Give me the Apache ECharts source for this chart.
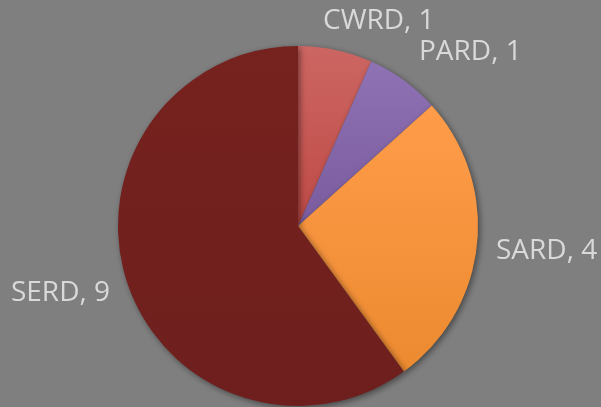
<!DOCTYPE html>
<html>
<head>
<meta charset="utf-8">
<script src="https://cdn.jsdelivr.net/npm/echarts@6/dist/echarts.min.js"></script>
<style>
  html, body { margin: 0; padding: 0; background: #7f7f7f; }
  #chart { width: 601px; height: 407px; }
</style>
</head>
<body>
<div id="chart"></div>
<script>
const categories = ['CWRD', 'PARD', 'SARD', 'SERD'];
const values = [1, 1, 4, 9];

// top / bottom gradient colours per slice
const topColors = ['#cc6662', '#8f72b4', '#ff9c4a', '#76221f'];
const bottomColors = ['#bf4a46', '#7a5c9e', '#ec8a30', '#6e1f1d'];

// label anchors (left/right edge, vertical middle)
const labelPos = {
  CWRD: { x: 323, y: 21, align: 'left' },
  PARD: { x: 419, y: 52, align: 'left' },
  SARD: { x: 496, y: 251, align: 'left' },
  SERD: { x: 110, y: 293, align: 'right' }
};

const el = document.getElementById('chart');
const chart = echarts.init(el);

const data = categories.map(function (name, i) {
  return {
    name: name,
    value: values[i],
    itemStyle: {
      color: new echarts.graphic.LinearGradient(0, 0, 0, 1, [
        { offset: 0, color: topColors[i] },
        { offset: 1, color: bottomColors[i] }
      ])
    }
  };
});

chart.setOption({
  backgroundColor: '#7f7f7f',
  animation: false,
  series: [{
    type: 'pie',
    center: [298, 226],
    radius: 180,
    startAngle: 90,
    clockwise: true,
    data: data,
    itemStyle: {
      borderWidth: 0,
      shadowBlur: 6,
      shadowOffsetX: 2,
      shadowOffsetY: 2,
      shadowColor: 'rgba(0,0,0,0.45)'
    },
    label: {
      show: true,
      position: 'outside',
      formatter: '{b}, {c}',
      color: '#d9d9d9',
      fontFamily: 'Open Sans',
      fontSize: 28,
      overflow: 'none'
    },
    labelLine: { show: false },
    labelLayout: function (params) {
      const p = labelPos[categories[params.dataIndex]];
      return { x: p.x, y: p.y, align: p.align, verticalAlign: 'middle', hideOverlap: false };
    },
    emphasis: { disabled: true }
  }]
});

window.addEventListener('resize', function () { chart.resize(); });
</script>
</body>
</html>
